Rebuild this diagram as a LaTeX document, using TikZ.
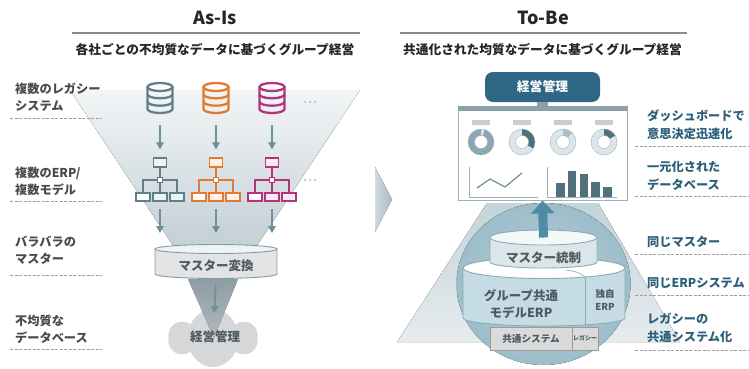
\documentclass[tikz,border=0pt]{standalone}
\usepackage{fontspec}
\setmainfont{Noto Sans CJK JP}
\usetikzlibrary{shapes.geometric, shapes.symbols, arrows.meta}

\definecolor{slate}{HTML}{5F7F8B}
\definecolor{rust}{HTML}{E27A31}
\definecolor{berry}{HTML}{B3347D}
\definecolor{flowgray}{HTML}{6F909B}
\definecolor{lblgray}{HTML}{4A4A4A}
\definecolor{lblteal}{HTML}{2B5F79}
\definecolor{headteal}{HTML}{2D6783}
\definecolor{arrowteal}{HTML}{4E8CA4}
\definecolor{rulegray}{HTML}{8A8A8A}
\definecolor{dashgray}{HTML}{9E9E9E}
\definecolor{dotgray}{HTML}{B8B8B8}
\definecolor{funneltop}{HTML}{F3F5F6}
\definecolor{funnelbot}{HTML}{C2CFD5}
\definecolor{necktop}{HTML}{A4B9C1}
\definecolor{neckbot}{HTML}{D6DDE0}
\definecolor{cloudgray}{HTML}{D5D7D8}
\definecolor{cylbody}{HTML}{E1E3E4}
\definecolor{cyltop}{HTML}{F1F2F2}
\definecolor{cylline}{HTML}{7E9EA8}
\definecolor{cyltext}{HTML}{4F5B60}
\definecolor{chevlight}{HTML}{CFDBE0}
\definecolor{chevdark}{HTML}{A6BCC6}
\definecolor{traptop}{HTML}{C4D4DA}
\definecolor{trapbot}{HTML}{E6ECEE}
\definecolor{ringin}{HTML}{B8D0D9}
\definecolor{ringout}{HTML}{9CBDC9}
\definecolor{erpbody}{HTML}{C6DCE4}
\definecolor{erpline}{HTML}{8AABB6}
\definecolor{ctrlbody}{HTML}{DCE6EA}
\definecolor{ctrltopc}{HTML}{F5F8F9}
\definecolor{stripfill}{HTML}{DADADA}
\definecolor{stripline}{HTML}{9A9A9A}
\definecolor{framegray}{HTML}{9DB2BA}
\definecolor{framedark}{HTML}{8BA2AC}
\definecolor{barslate}{HTML}{51707D}
\definecolor{donutdark}{HTML}{8CA7B2}
\definecolor{donutmid}{HTML}{AAC0C9}
\definecolor{donutlight}{HTML}{DCE6EA}

\tikzstyle{heading} = [font=\bfseries\fontsize{18}{20}\selectfont, text=black!85, inner sep=0]
\tikzstyle{subheading} = [font=\bfseries\fontsize{12.7}{15}\selectfont, text=black!85, inner sep=0]
\tikzstyle{leftlabel} = [anchor=west, align=left, inner sep=0, font=\bfseries\fontsize{12.2}{17}\selectfont, text=lblgray]
\tikzstyle{rightlabel} = [anchor=west, align=left, inner sep=0, font=\bfseries\fontsize{12.2}{18}\selectfont, text=lblteal]
\tikzstyle{divider} = [draw=dashgray, line width=0.9pt, dash pattern=on 3pt off 1.5pt]
\tikzstyle{headrule} = [draw=rulegray, line width=2.4pt]
\tikzstyle{flow} = [draw=flowgray, line width=1.7pt, -{Triangle[length=7pt,width=7.5pt]}]
\tikzstyle{orgbox} = [rectangle, draw, fill=white, minimum width=14pt, minimum height=8pt, inner sep=0]
\tikzstyle{cyltext} = [font=\bfseries\fontsize{12.5}{16.5}\selectfont, text=cyltext, align=center, inner sep=0]
\tikzstyle{stripbox} = [rectangle, draw=stripline, fill=stripfill, line width=0.8pt, inner sep=0, minimum height=23pt, text=cyltext]

\tikzset{
  dbicon/.pic={
    \node (-box) [minimum width=30pt, minimum height=34pt, inner sep=0] {};
    \begin{scope}[color=#1, line width=2.3pt]
      \draw (0,-11) ellipse [x radius=12.5, y radius=4];
      \draw (-12.5,-11) -- (-12.5,11) arc [start angle=180, end angle=0, x radius=12.5, y radius=4] -- (12.5,-11);
      \draw (-12.5,-3.7) arc [start angle=180, end angle=0, x radius=12.5, y radius=4];
      \draw (-12.5,3.7) arc [start angle=180, end angle=0, x radius=12.5, y radius=4];
    \end{scope}
  },
  orgchart/.pic={
    \begin{scope}[color=#1, line width=1.3pt]
      \node (-top) [orgbox, fill=#1!10, minimum width=13pt, minimum height=9pt] at (0,-17.5) {};
      \node (-hub) [orgbox, minimum width=5pt, minimum height=5pt] at (0,0) {};
      \node (-left) [orgbox] at (-17,17) {};
      \node (-mid) [orgbox, fill=#1!10] at (0,17) {};
      \node (-right) [orgbox, fill=#1!10] at (17,17) {};
      \draw (-top) -- (-hub);
      \draw (-hub) -- (-mid);
      \draw (-hub) -| (-left);
      \draw (-hub) -| (-right);
    \end{scope}
  }
}

\begin{document}
\begin{tikzpicture}[x=1pt, y=-1pt]
	\useasboundingbox (0,0) rectangle (749,368);

	% As-Is
	\fill [top color=funneltop, bottom color=funnelbot] (70,90) -- (360,90) -- (254,250) -- (176,250) -- cycle;

	\node (asis) [heading] at (215,18) {As-Is};
	\draw [headrule] (72,33) -- (360,33);
	\node (asissub) [subheading] at (215,50) {各社ごとの不均質なデータに基づくグループ経営};

	\node (lab1) [leftlabel] at (15,97.5) {複数のレガシー\\システム};
	\draw [divider] (10,118) -- (102,118);
	\node (lab2) [leftlabel] at (15,181) {複数のERP/\\複数モデル};
	\draw [divider] (10,201) -- (102,201);
	\node (lab3) [leftlabel] at (15,250.5) {バラバラの\\マスター};
	\draw [divider] (10,275) -- (102,275);
	\node (lab4) [leftlabel] at (15,329.5) {不均質な\\データベース};
	\draw [divider] (10,349) -- (102,349);

	\pic (db1) at (160,98) {dbicon=slate};
	\pic (db2) at (216,98) {dbicon=rust};
	\pic (db3) at (272,98) {dbicon=berry};
	\fill [dotgray] (305,102) circle [radius=1.1] (310,102) circle [radius=1.1] (315,102) circle [radius=1.1];

	\pic (org1) at (160,180) {orgchart=slate};
	\pic (org2) at (216,180) {orgchart=rust};
	\pic (org3) at (272,180) {orgchart=berry};
	\fill [dotgray] (305,180) circle [radius=1.1] (310,180) circle [radius=1.1] (315,180) circle [radius=1.1];

	\node (cloudL) [cloud, cloud puffs=6, cloud puff arc=140, aspect=1.4, fill=cloudgray, minimum width=88pt, minimum height=58pt, inner sep=0] at (213,338) {};
	\fill [top color=necktop, bottom color=neckbot, opacity=0.8] (188,279) -- (238,279) -- (214,338) -- cycle;

	\filldraw [fill=cylbody, draw=cylline, line width=0.9pt] (155,249) -- (155,274) arc [start angle=180, end angle=0, x radius=61, y radius=4.5] -- (277,249) -- cycle;
	\node (mastertop) [ellipse, draw=cylline, fill=cyltop, line width=0.9pt, minimum width=122pt, minimum height=9pt, inner sep=0] at (216,249) {};
	\node (master) [cyltext] at (216,266) {マスター変換};
	\coordinate (masterbase) at (216,279);

	\foreach \i in {1,2,3} {
		\draw [flow, shorten <=10pt, shorten >=8pt] (db\i-box) -- (org\i-top);
		\draw [flow, shorten <=7pt, shorten >=11pt] (org\i-mid.south) -- (org\i-mid.south |- mastertop.north);
	}
	\draw [flow, shorten <=6pt, shorten >=25pt] (masterbase) -- (cloudL.center);
	\node (mgmtL) [cyltext] at (215,336.5) {経営管理};

	% To-Be
	\fill [left color=chevlight, right color=chevdark] (375,167) -- (392,199.5) -- (375,232) -- cycle;

	\node (tobe) [heading] at (543,18) {To-Be};
	\draw [headrule] (400,33) -- (687,33);
	\node (tobesub) [subheading] at (542.5,50) {共通化された均質なデータに基づくグループ経営};

	\fill [top color=traptop, bottom color=trapbot] (487,203) -- (598,203) -- (680,342) -- (397,342) -- cycle;
	\fill [inner color=ringin, outer color=ringout] (543.5,284) ellipse [x radius=87, y radius=81];

	\filldraw [fill=erpbody, draw=erpline, line width=0.9pt] (463,268) -- (463,318) arc [start angle=180, end angle=0, x radius=81, y radius=8] -- (625,268) -- cycle;
	\node (erptop) [ellipse, draw=erpline, fill=white, line width=0.9pt, minimum width=162pt, minimum height=21pt, inner sep=0] at (544,268) {};
	\draw [erpline, line width=0.9pt] (585,277) -- (585,325);
	\draw [erpline, line width=0.7pt] (566,270) .. controls (578,272) .. (585,277);
	\node (erpcommon) [cyltext] at (521,304) {グループ共通\\モデルERP};
	\node (erpown) [cyltext, font=\bfseries\fontsize{9.5}{13}\selectfont] at (605,299.5) {独自\\ERP};

	\node (syscommon) [stripbox, minimum width=82pt, font=\bfseries\fontsize{9.6}{11}\selectfont] at (531,338.5) {共通システム};
	\node (syslegacy) [stripbox, minimum width=26pt, font=\bfseries\fontsize{6}{7}\selectfont] at (585,338.5) {レガシー};

	\filldraw [fill=ctrlbody, draw=erpline, line width=0.9pt] (490,237.5) -- (490,262) arc [start angle=180, end angle=0, x radius=53.5, y radius=6] -- (597,237.5) -- cycle;
	\node (ctrltop) [ellipse, draw=erpline, fill=ctrltopc, line width=0.9pt, minimum width=107pt, minimum height=15pt, inner sep=0] at (543.5,237.5) {};
	\node (ctrl) [cyltext] at (543.5,257.5) {マスター統制};

	\node (mgmtR) [rectangle, rounded corners=8pt, fill=headteal, text=white, minimum width=115pt, minimum height=30pt, font=\bfseries\fontsize{12.8}{14}\selectfont] at (542.5,87) {経営管理};
	\node (dash) [rectangle, draw=framegray, fill=white, line width=1pt, minimum width=169pt, minimum height=91pt, inner sep=0] at (542.5,154.5) {};
	\draw [framedark, line width=11pt] (mgmtR) -- (dash);
	\draw [framedark, line width=5pt] (dash.north west) -- (dash.north east);

	\foreach \cx in {481,522,563,604}
		\fill [black!20] (\cx-9,120) rectangle (\cx+9,124.5);
	\foreach \cx/\ring/\seg/\ang in {481/donutdark/donutlight/16, 522/donutlight/barslate/120, 563/donutlight/donutmid/45, 604/donutlight/barslate/60} {
		\fill [\ring] (\cx,142) circle [radius=13];
		\fill [\seg] (\cx,142) ++(-90:13) arc [start angle=-90, end angle=-90+\ang, radius=13] -- ++(-90+\ang:-6.5) arc [start angle=-90+\ang, end angle=-90, radius=6.5] -- cycle;
		\draw [framegray, fill=white] (\cx,142) circle [radius=6.5];
		\draw [framegray] (\cx,142) circle [radius=13];
	}
	\draw [framegray, line width=1pt] (469,167) -- (469,197) -- (538,197);
	\draw [barslate!80, line width=1.2pt] (477,188) -- (490,179) -- (505,187) -- (522,173);
	\draw [framegray, line width=1pt] (547,167) -- (547,197) -- (617,197);
	\foreach \bx/\bt in {556/183, 567.5/171, 579.5/174, 591/182, 603/187}
		\fill [barslate] (\bx,\bt) rectangle (\bx+8.5,197);

	\draw [draw=arrowteal, line width=9pt, -{Triangle[length=13pt,width=23pt]}] (ctrltop.center) -- (dash.south);

	\node (rl1) [rightlabel] at (647,124.5) {ダッシュボードで\\意思決定迅速化};
	\draw [divider] (635,146) -- (749,146);
	\node (rl2) [rightlabel] at (647,176) {一元化された\\データベース};
	\draw [divider] (635,196) -- (749,196);
	\node (rl3) [rightlabel] at (647,241.5) {同じマスター};
	\draw [divider] (635,254) -- (749,254);
	\node (rl4) [rightlabel] at (647,283.5) {同じERPシステム};
	\draw [divider] (635,295) -- (749,295);
	\node (rl5) [rightlabel] at (647,328) {レガシーの\\共通システム化};
	\draw [divider] (635,350) -- (749,350);
\end{tikzpicture}
\end{document}
